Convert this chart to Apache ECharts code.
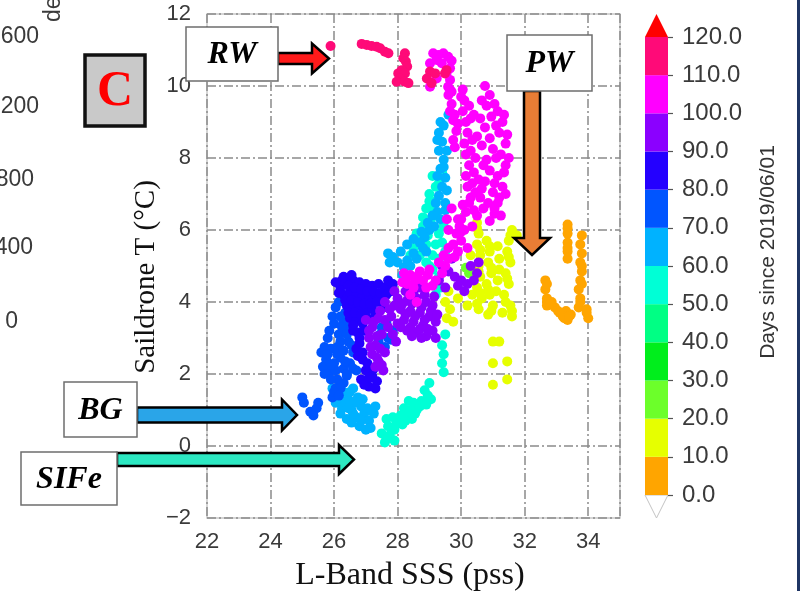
<!DOCTYPE html>
<html>
<head>
<meta charset="utf-8">
<script src="https://cdn.jsdelivr.net/npm/echarts@6/dist/echarts.min.js"></script>
<style>
  html, body { margin: 0; padding: 0; background: #ffffff; }
  #chart { width: 800px; height: 591px; }
</style>
</head>
<body>
<div id="chart"></div>
<script>
// Colour bins for "Days since 2019/06/01" (lower edge of each 10-day bin)
const dayBins = [0, 10, 20, 30, 40, 50, 60, 70, 80, 90, 100, 110];
const binColors = ['#ffa500', '#e6ff00', '#6cff2a', '#00ee1c', '#00ff84', '#00ffd6',
                   '#00b2ff', '#0055ff', '#2400ff', '#8b00ff', '#ff00ff', '#ff0a78'];
const overColor = '#ff0000';
const cbarTicks = [0, 10, 20, 30, 40, 50, 60, 70, 80, 90, 100, 110, 120];
const sssTicks = [22, 24, 26, 28, 30, 32, 34];
const tempTicks = [-2, 0, 2, 4, 6, 8, 10, 12];

// Saildrone observations, [L-band SSS (pss), T (°C)], grouped by day bin
const days0to10 = [
  [33.35, 6.15], [33.35, 5.9], [33.35, 5.65], [33.35, 5.4], [33.35, 5.2],
  [33.8, 5.85], [33.75, 5.6], [33.8, 5.35], [33.75, 5.1], [33.8, 4.85], [33.75, 4.6],
  [33.7, 4.35], [33.75, 4.1], [33.7, 3.85],
  [32.65, 4.6], [32.65, 4.35], [32.7, 4.1], [32.7, 3.9], [32.85, 4.0], [32.95, 3.85],
  [33.05, 3.75], [33.2, 3.6], [33.35, 3.5], [33.3, 3.75], [33.45, 3.65],
  [33.95, 3.8], [34.0, 3.55],
  [33.35, 6.05], [33.35, 5.5], [33.8, 5.0], [33.8, 4.5], [33.75, 4.0], [32.7, 4.5],
  [32.7, 4.0], [32.8, 3.95], [33.1, 3.7], [33.25, 3.55], [33.4, 3.6], [33.95, 3.7]
];
const days10to20 = [
  [30.5, 6.2], [30.55, 5.9], [30.5, 5.6], [30.6, 5.3], [30.55, 5.0], [30.6, 4.7],
  [30.5, 4.4], [30.65, 4.1], [30.55, 3.8],
  [30.8, 5.7], [30.9, 5.4], [30.85, 5.1], [30.95, 4.8], [30.8, 4.5], [30.9, 4.2],
  [31.0, 3.9], [30.85, 3.65],
  [31.6, 6.0], [31.5, 5.7], [31.45, 5.4], [31.55, 5.1], [31.4, 4.8], [31.5, 4.5],
  [31.35, 4.2], [31.55, 3.9], [31.6, 3.6], [31.3, 3.7], [31.75, 5.85],
  [31.15, 5.55], [31.2, 4.9], [31.1, 4.3], [30.3, 5.3], [30.35, 4.2], [30.2, 3.9],
  [29.5, 4.0], [29.65, 3.8], [29.55, 3.55], [29.75, 3.45], [29.6, 4.3], [29.9, 4.1],
  [31.0, 2.9], [31.2, 2.9], [31.0, 2.3], [31.45, 2.35], [31.0, 1.7], [31.45, 1.85],
  [30.5, 6.05], [30.6, 5.45], [30.55, 4.85], [30.6, 4.25], [30.5, 3.95], [30.9, 5.55],
  [30.95, 4.95], [30.85, 4.35], [30.95, 3.75], [31.55, 5.85], [31.5, 5.25], [31.45, 4.65],
  [31.4, 4.0], [31.6, 3.75], [31.2, 5.2], [31.15, 4.6]
];
const days20to30 = [[30.15, 4.95], [30.25, 4.8]];
const days30to40 = [];
const days40to50 = [];
const days50to60 = [
  [27.6, 0.1], [27.75, 0.3], [27.7, 0.55], [27.9, 0.45], [28.0, 0.7], [28.15, 0.6],
  [28.3, 0.85], [28.45, 0.75], [28.6, 1.0], [28.75, 1.25], [28.9, 1.15], [29.05, 1.3],
  [28.5, 1.2], [28.2, 1.05], [27.85, 0.8], [28.85, 1.55], [29.0, 1.75], [27.5, 0.35], [27.9, 0.15],
  [27.65, 0.2], [27.8, 0.5], [27.95, 0.6], [28.1, 0.85], [28.25, 0.7], [28.4, 1.0],
  [28.55, 0.9], [28.7, 1.1], [28.95, 1.4], [28.35, 1.25], [27.65, 0.75],
  [29.4, 2.8], [29.45, 2.55], [29.4, 2.3], [29.45, 2.05], [29.5, 3.1],
  [29.1, 7.5], [29.3, 7.3], [29.0, 7.0], [29.2, 6.8], [28.9, 6.6], [29.05, 6.3],
  [28.8, 6.1], [28.6, 5.9], [28.9, 5.6], [28.5, 5.5], [28.7, 5.3], [28.9, 5.1],
  [29.2, 5.6], [29.3, 5.9], [29.45, 6.1], [29.5, 5.4], [29.3, 5.2], [28.4, 5.3],
  [29.4, 7.6], [29.1, 4.9], [29.3, 4.7], [29.35, 4.4], [29.2, 4.2],
  [29.1, 6.6], [28.95, 5.85], [28.7, 5.6], [29.1, 5.3], [29.2, 7.2], [29.0, 6.8],
  [28.8, 6.35], [29.4, 5.65], [29.0, 5.0]
];
const days60to70 = [
  [25.95, 1.6], [26.1, 1.45], [26.05, 1.2], [26.3, 1.5], [26.45, 1.3], [26.25, 1.05],
  [26.6, 1.6], [26.75, 1.35], [26.55, 1.0], [26.85, 1.1], [26.7, 0.8], [26.95, 0.9],
  [27.1, 0.7], [26.8, 0.55], [27.0, 0.45], [27.25, 0.9], [26.4, 0.75],
  [26.0, 1.4], [26.2, 1.3], [26.35, 1.2], [26.5, 1.5], [26.65, 1.2], [26.9, 1.3],
  [27.05, 1.05], [26.6, 0.9], [26.85, 0.7], [27.15, 0.5], [26.45, 1.05], [26.2, 0.9],
  [27.3, 1.1], [26.55, 0.65],
  [29.35, 9.0], [29.3, 8.7], [29.4, 8.45], [29.3, 8.2], [29.45, 7.95], [29.35, 7.7],
  [29.5, 7.45], [29.4, 7.2], [29.3, 6.95], [29.5, 6.75], [29.25, 6.5], [29.35, 6.3],
  [29.15, 6.1], [29.0, 6.0], [28.85, 5.8], [28.7, 5.65], [28.9, 5.4], [28.6, 5.2],
  [28.4, 5.0], [28.2, 4.95], [29.6, 9.2], [29.55, 8.2], [28.1, 5.4], [28.15, 4.75],
  [27.7, 5.35], [27.75, 5.1], [28.3, 5.6],
  [29.45, 8.9], [29.25, 8.5], [29.45, 7.75], [29.25, 7.5], [29.55, 7.1], [29.2, 6.75],
  [29.5, 6.55], [29.1, 6.4], [28.95, 6.2], [28.75, 5.95], [28.5, 5.75], [28.8, 5.5],
  [28.5, 5.35], [28.3, 5.15], [28.0, 5.1], [27.85, 5.25]
];
const days70to80 = [
  [25.6, 2.6], [25.75, 2.4], [25.65, 2.2], [25.85, 2.05], [25.9, 2.7], [26.0, 2.3],
  [25.8, 3.0], [26.0, 3.4], [26.15, 3.1], [26.1, 2.75], [26.2, 2.45], [26.3, 2.15],
  [26.1, 1.85], [26.35, 3.7], [26.5, 3.3], [26.45, 2.9], [26.6, 2.6], [26.5, 2.3],
  [26.4, 1.95], [26.7, 2.1], [26.15, 4.0], [26.3, 3.45], [27.5, 3.3], [27.7, 3.0],
  [27.6, 2.75], [27.85, 3.2], [27.4, 2.9], [26.05, 1.6], [25.95, 1.35],
  [25.7, 2.75], [25.8, 2.55], [25.7, 2.0], [25.9, 1.85], [26.05, 2.1], [26.1, 2.55],
  [26.2, 2.9], [26.25, 3.3], [26.3, 2.65], [26.35, 2.35], [26.4, 3.1], [26.55, 2.8],
  [26.6, 2.15], [26.3, 1.75], [26.2, 1.6], [25.85, 3.2], [25.95, 3.6], [26.05, 3.85],
  [26.2, 3.6], [25.9, 2.25], [26.4, 2.0], [27.45, 3.1], [27.65, 3.4], [27.8, 2.95],
  [26.0, 1.5], [26.15, 1.4],
  [25.0, 1.35], [25.05, 1.2], [25.25, 0.95], [25.45, 1.05], [25.5, 1.2], [25.35, 0.85]
];
const days80to90 = [
  [26.2, 4.4], [26.4, 4.55], [26.6, 4.6], [26.8, 4.55], [27.0, 4.5], [27.2, 4.45],
  [27.4, 4.5], [27.6, 4.4], [27.8, 4.3], [26.3, 4.2], [26.5, 4.25], [26.7, 4.2],
  [26.9, 4.15], [27.1, 4.1], [27.3, 4.2], [27.5, 4.05], [26.4, 3.9], [26.6, 3.85],
  [26.8, 3.9], [27.0, 3.75], [27.2, 3.8], [26.5, 3.55], [26.7, 3.5], [26.9, 3.4],
  [26.6, 3.2], [26.8, 3.0], [26.7, 2.7], [26.9, 2.4], [27.0, 2.1], [27.2, 1.95],
  [27.35, 1.8], [26.85, 1.85], [27.1, 1.65], [26.3, 4.7], [26.55, 4.75], [27.7, 4.6],
  [26.25, 4.6], [26.45, 4.45], [26.65, 4.4], [26.85, 4.35], [27.05, 4.3], [27.25, 4.3],
  [27.45, 4.25], [27.65, 4.2], [27.85, 4.5], [26.35, 4.05], [26.55, 4.05], [26.75, 4.0],
  [26.95, 3.95], [27.15, 3.95], [27.35, 4.0], [27.55, 3.85], [26.45, 3.7], [26.65, 3.7],
  [26.85, 3.65], [27.05, 3.55], [27.3, 3.65], [26.6, 3.35], [26.75, 3.15], [26.95, 3.2],
  [26.8, 2.85], [26.9, 2.6], [26.75, 2.5], [27.05, 2.3], [27.25, 2.15], [27.1, 1.9],
  [26.95, 1.7], [27.3, 1.6], [26.15, 4.25], [26.05, 4.55]
];
const days90to100 = [
  [28.0, 4.1], [28.3, 4.05], [28.6, 4.1], [28.9, 4.0], [29.1, 3.9], [28.1, 3.8],
  [28.4, 3.75], [28.7, 3.7], [29.0, 3.6], [29.2, 3.45], [28.2, 3.5], [28.5, 3.45],
  [28.8, 3.35], [29.1, 3.2], [28.6, 3.15], [28.3, 3.2], [28.0, 3.4], [27.8, 3.6],
  [27.7, 3.3], [28.9, 3.05],
  [27.9, 3.9], [28.15, 3.95], [28.45, 3.95], [28.75, 3.85], [29.05, 3.75], [28.25, 3.65],
  [28.55, 3.6], [28.85, 3.5], [28.1, 3.3], [28.4, 3.3], [28.7, 3.25], [28.95, 3.25],
  [28.45, 3.05], [28.75, 3.0], [27.85, 3.1], [27.95, 2.9], [27.6, 3.5], [27.45, 3.75],
  [27.75, 3.8], [29.25, 3.65], [28.25, 4.3], [28.5, 4.25], [28.85, 4.2], [29.15, 4.15], [29.2, 3.0],
  [27.0, 3.5], [27.2, 3.3], [27.4, 3.55], [27.1, 3.0], [27.3, 2.8], [27.5, 3.1],
  [27.2, 2.55], [27.4, 2.35], [27.6, 2.6], [27.3, 2.2], [27.55, 2.1],
  [27.1, 3.2], [27.25, 3.45], [27.35, 3.05], [27.45, 2.7], [27.15, 2.75], [27.35, 2.45], [27.5, 2.25],
  [27.6, 4.0], [27.9, 4.3], [28.7, 4.4],
  [29.4, 5.0], [29.6, 4.85], [29.8, 4.7], [30.0, 4.6], [30.2, 4.5], [30.4, 4.6],
  [30.5, 4.8], [30.3, 5.0], [29.9, 4.45], [30.1, 4.3], [29.5, 4.4], [29.3, 4.6],
  [30.55, 5.1], [29.7, 5.2]
];
const days100to110 = [
  [29.12, 10.91], [29.28, 10.86], [29.44, 10.91], [29.59, 10.81], [29.7, 10.7],
  [29.23, 10.72], [29.39, 10.63], [29.02, 10.63], [29.65, 10.49], [29.54, 10.35],
  [29.23, 10.21], [29.65, 10.17], [29.02, 9.98], [29.59, 9.98], [29.7, 9.84],
  [29.6, 9.75], [29.7, 9.5], [29.65, 9.3], [29.75, 9.05], [29.85, 8.75], [29.75, 8.5],
  [30.05, 9.9], [30.1, 9.6], [30.05, 9.3], [30.15, 9.0], [30.2, 8.7], [30.1, 8.4],
  [30.15, 8.1], [30.25, 7.8], [30.15, 7.5], [30.2, 7.2], [30.3, 6.9], [30.05, 6.7],
  [30.15, 6.5], [30.0, 6.3], [30.35, 6.1],
  [30.75, 10.0], [30.9, 9.75], [30.8, 9.45], [30.95, 9.15], [30.75, 8.85], [30.9, 8.55],
  [31.0, 8.25], [30.8, 7.95], [30.9, 7.65], [30.75, 7.35], [31.0, 7.05], [30.85, 6.75],
  [31.05, 6.45], [30.9, 6.25],
  [31.15, 9.3], [31.3, 9.0], [31.2, 8.7], [31.4, 8.4], [31.25, 8.1], [31.4, 7.8],
  [31.15, 7.5], [31.3, 7.2], [31.2, 6.9], [31.05, 6.6], [31.25, 6.4],
  [30.4, 9.2], [30.5, 8.6], [30.45, 8.0], [30.55, 7.4], [30.6, 6.9], [30.5, 6.4],
  [29.65, 9.9], [29.8, 9.2], [29.9, 8.95], [29.8, 8.3], [30.0, 9.7], [30.25, 9.45],
  [30.3, 9.1], [30.35, 8.5], [30.3, 8.2], [30.4, 7.6], [30.35, 7.3], [30.45, 7.05],
  [30.25, 6.75], [30.4, 6.55], [30.65, 9.6], [30.6, 9.1], [30.65, 8.35], [30.7, 7.8],
  [30.65, 7.15], [30.7, 6.6], [31.05, 9.5], [31.1, 8.9], [31.1, 8.0], [31.05, 7.3],
  [31.15, 6.75], [31.35, 9.2], [31.45, 8.65], [31.35, 7.6], [31.4, 7.0], [31.5, 8.0],
  [29.7, 6.6], [29.9, 6.3], [30.1, 6.0], [29.85, 5.9], [30.0, 5.7], [30.2, 5.5],
  [29.75, 5.6], [29.9, 5.4], [29.6, 5.2], [29.5, 5.0], [29.3, 5.1], [29.4, 4.8],
  [29.2, 4.6], [29.0, 4.9], [28.8, 4.6], [28.9, 4.4],
  [29.45, 5.3], [29.6, 5.5], [29.8, 5.25], [30.0, 5.95], [29.95, 6.1], [29.6, 6.0],
  [29.55, 6.3], [28.7, 4.85], [28.95, 4.75], [29.1, 4.45], [28.3, 4.7], [28.15, 4.55],
  [28.2, 4.8], [28.4, 4.75], [28.6, 4.7], [28.3, 4.5], [28.5, 4.4], [28.4, 4.2],
  [28.6, 4.0], [28.55, 4.6]
];
const days110to120 = [
  [25.89, 11.11], [26.87, 11.17], [27.03, 11.14], [27.18, 11.11], [27.34, 11.09],
  [27.45, 11.05], [27.6, 10.95], [27.71, 10.91],
  [28.23, 10.91], [28.18, 10.77], [28.26, 10.68], [28.3, 10.54], [28.13, 10.44],
  [28.02, 10.35], [28.23, 10.35], [28.07, 10.21], [27.97, 10.12], [28.23, 10.12], [28.34, 10.08],
  [29.02, 10.4], [29.18, 10.35], [28.92, 10.21], [29.07, 10.08], [29.49, 10.35], [29.54, 10.44]
];
const binData = [days0to10, days10to20, days20to30, days30to40, days40to50, days50to60,
                 days60to70, days70to80, days80to90, days90to100, days100to110, days110to120];

const serif = '"Liberation Serif", "Times New Roman", serif';
const sans = '"Liberation Sans", Arial, sans-serif';

// plot area and colourbar placement
const plot = { left: 207, top: 14, width: 413, height: 504 };
const cbar = { left: 645, top: 37, width: 23, height: 458 };

const chart = echarts.init(document.getElementById('chart'), null, { renderer: 'canvas' });

const scatterSeries = binData.map((pts, i) => ({
  name: dayBins[i] + '-' + (dayBins[i] + 10),
  type: 'scatter',
  xAxisIndex: 0, yAxisIndex: 0,
  data: pts,
  symbolSize: 10,
  itemStyle: { color: binColors[i], opacity: 1 },
  silent: true,
  z: 3 + i
}));

const cbarSeries = dayBins.map((d, i) => ({
  type: 'bar',
  xAxisIndex: 1, yAxisIndex: 1,
  stack: 'cbar',
  data: [10],
  barWidth: '100%',
  itemStyle: { color: binColors[i] },
  silent: true
}));

// Annotation: framed label box with an arrow
function labelBox(x, y, w, h, text) {
  return [
    { type: 'rect', shape: { x, y, width: w, height: h },
      style: { fill: '#ffffff', stroke: '#6e6e6e', lineWidth: 1.5 }, z: 20 },
    { type: 'text', x: x + w / 2, y: y + h / 2 + 1,
      style: { text, fill: '#000', font: 'italic bold 32px ' + serif,
               align: 'center', verticalAlign: 'middle' }, z: 21 }
  ];
}
function rightArrow(x0, x1, yc, shaftH, headLen, headH, fill) {
  const hs = shaftH / 2, hh = headH / 2, xb = x1 - headLen;
  return { type: 'polygon', z: 19,
    shape: { points: [[x0, yc - hs], [xb, yc - hs], [xb, yc - hh], [x1, yc],
                      [xb, yc + hh], [xb, yc + hs], [x0, yc + hs]] },
    style: { fill, stroke: '#000', lineWidth: 2.5, lineJoin: 'miter' } };
}
function downArrow(xc, y0, y1, shaftW, headLen, headW, fill) {
  const hs = shaftW / 2, hh = headW / 2, yb = y1 - headLen;
  return { type: 'polygon', z: 19,
    shape: { points: [[xc - hs, y0], [xc - hs, yb], [xc - hh, yb], [xc, y1],
                      [xc + hh, yb], [xc + hs, yb], [xc + hs, y0]] },
    style: { fill, stroke: '#000', lineWidth: 2.5, lineJoin: 'miter' } };
}

const graphics = [
  // neighbouring panel's axis, cut by the slide edge
  { type: 'text', x: 39, y: 37, style: { text: '1600', font: '23px ' + sans, fill: '#3a3a3a', align: 'right', verticalAlign: 'middle' } },
  { type: 'text', x: 39, y: 107, style: { text: '1200', font: '23px ' + sans, fill: '#3a3a3a', align: 'right', verticalAlign: 'middle' } },
  { type: 'text', x: 34, y: 180, style: { text: '800', font: '23px ' + sans, fill: '#3a3a3a', align: 'right', verticalAlign: 'middle' } },
  { type: 'text', x: 33, y: 248, style: { text: '400', font: '23px ' + sans, fill: '#3a3a3a', align: 'right', verticalAlign: 'middle' } },
  { type: 'text', x: 18, y: 322, style: { text: '0', font: '23px ' + sans, fill: '#3a3a3a', align: 'right', verticalAlign: 'middle' } },
  { type: 'text', x: 54, y: 22, rotation: Math.PI / 2,
    style: { text: 'depth (m)', font: '23px ' + sans, fill: '#3a3a3a', align: 'left', verticalAlign: 'middle' } },

  // panel letter
  { type: 'rect', shape: { x: 85, y: 55, width: 60, height: 71 },
    style: { fill: '#c9c9c9', stroke: '#111', lineWidth: 3.5 }, z: 20 },
  { type: 'text', x: 115, y: 92, style: { text: 'C', fill: '#ff0000', font: 'bold 50px ' + serif,
    align: 'center', verticalAlign: 'middle' }, z: 21 },

  // axis titles
  { type: 'text', x: 410, y: 576, style: { text: 'L-Band SSS (pss)', font: '32px ' + serif, fill: '#111',
    align: 'center', verticalAlign: 'middle' } },
  { type: 'text', x: 146, y: 277, rotation: Math.PI / 2, style: { text: 'Saildrone T (°C)', font: '29px ' + serif,
    fill: '#111', align: 'center', verticalAlign: 'middle' } },
  { type: 'text', x: 768, y: 252, rotation: Math.PI / 2, style: { text: 'Days since 2019/06/01', font: '21px ' + sans,
    fill: '#333', align: 'center', verticalAlign: 'middle' } },

  // colourbar extension triangles
  { type: 'polygon', shape: { points: [[cbar.left, cbar.top], [cbar.left + cbar.width, cbar.top],
      [cbar.left + cbar.width / 2, cbar.top - 23]] }, style: { fill: overColor } },
  { type: 'polygon', shape: { points: [[cbar.left, cbar.top + cbar.height], [cbar.left + cbar.width, cbar.top + cbar.height],
      [cbar.left + cbar.width / 2, cbar.top + cbar.height + 23]] }, style: { fill: '#ffffff', stroke: '#c4c4c4', lineWidth: 1 } },

  // water-mass labels
  ...labelBox(186, 27, 92, 54, 'RW'),
  rightArrow(278, 329, 58.5, 11, 17, 30, '#ff1a1a'),
  ...labelBox(507, 35, 85, 56, 'PW'),
  downArrow(532, 91, 255, 16, 17, 36, '#e87d35'),
  ...labelBox(64, 382, 73, 55, 'BG'),
  rightArrow(137, 297, 415, 15, 15, 31, '#2aa5e8'),
  ...labelBox(21, 452, 96, 53, 'SIFe'),
  rightArrow(117, 354, 459.5, 13, 15, 29, '#2de8c2'),

  // slide edge
  { type: 'rect', shape: { x: 797, y: 0, width: 3, height: 591 }, style: { fill: '#1f3564' } }
];

const dashDot = [9, 3, 2, 3];

const option = {
  backgroundColor: '#ffffff',
  animation: false,
  grid: [
    { left: plot.left, top: plot.top, width: plot.width, height: plot.height,
      show: true, borderColor: '#c8c8c8', borderWidth: 1.5, backgroundColor: 'transparent' },
    { left: cbar.left, top: cbar.top, width: cbar.width, height: cbar.height }
  ],
  xAxis: [
    { type: 'value', gridIndex: 0, min: 22, max: 35, interval: 2,
      axisLine: { show: false }, axisTick: { show: false },
      axisLabel: { fontSize: 22, fontFamily: sans, color: '#3a3a3a', margin: 13,
        formatter: v => sssTicks.includes(v) ? String(v) : '' },
      splitLine: { show: true, lineStyle: { color: '#8a8a8a', width: 1.5, type: dashDot } } },
    { type: 'category', gridIndex: 1, data: ['days'], show: false }
  ],
  yAxis: [
    { type: 'value', gridIndex: 0, min: -2, max: 12, interval: 2,
      axisLine: { show: false }, axisTick: { show: false },
      axisLabel: { fontSize: 22, fontFamily: sans, color: '#3a3a3a', margin: 16,
        formatter: v => tempTicks.includes(v) ? (v < 0 ? '\u2212' + Math.abs(v) : String(v)) : '' },
      splitLine: { show: true, lineStyle: { color: '#8a8a8a', width: 1.5, type: dashDot } } },
    { type: 'value', gridIndex: 1, min: 0, max: 120, interval: 10, position: 'right',
      axisLine: { show: false },
      axisTick: { show: true, length: 5, lineStyle: { color: '#555', width: 1.2 } },
      axisLabel: { fontSize: 24, fontFamily: sans, color: '#3a3a3a', margin: 14,
        formatter: v => cbarTicks.includes(v) ? v.toFixed(1) : '' },
      splitLine: { show: false } }
  ],
  series: [...cbarSeries, ...scatterSeries],
  graphic: graphics
};

chart.setOption(option);
</script>
</body>
</html>
